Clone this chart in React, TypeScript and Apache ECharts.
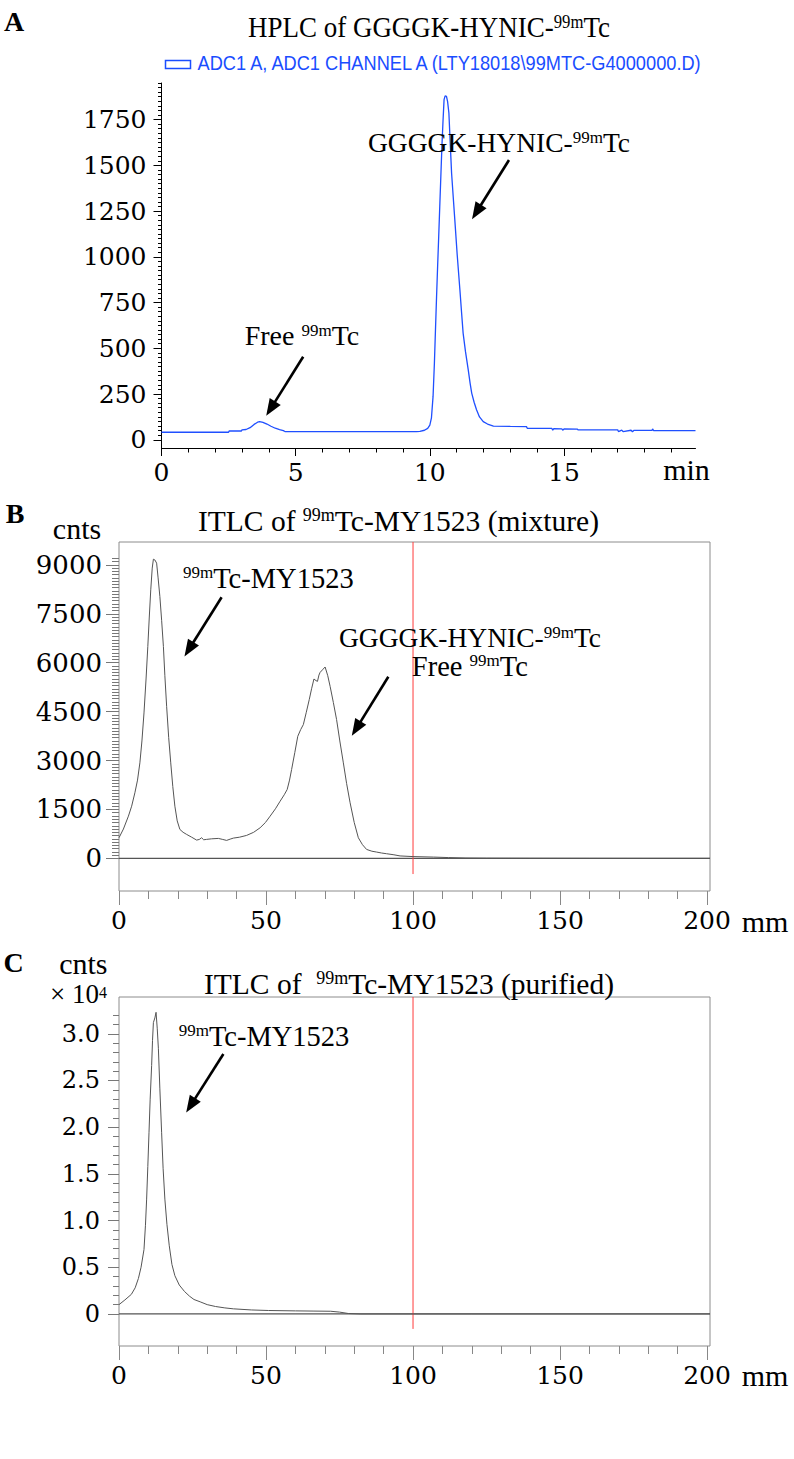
import React, { useEffect, useRef } from 'react';
import * as echarts from 'echarts';

// ---------- DATA ----------
// Panel A: HPLC trace [time (min), signal]
const hplcTrace: [number, number][] = [
  [0, 41], [2.5, 41], [2.52, 48], [2.98, 48], [3.0, 54], [3.15, 56], [3.3, 66], [3.45, 84], [3.58, 96], [3.66, 99],
  [3.78, 95], [3.93, 86], [4.08, 74], [4.24, 63], [4.4, 56], [4.54, 50], [4.6, 45], [6.0, 44], [8.0, 44], [9.5, 44],
  [9.63, 46], [9.8, 52], [9.92, 62], [10.0, 80], [10.06, 120], [10.12, 237], [10.17, 420], [10.21, 601], [10.25, 780],
  [10.29, 948], [10.33, 1110], [10.37, 1276], [10.41, 1440], [10.45, 1604], [10.49, 1740], [10.53, 1859], [10.57, 1880],
  [10.62, 1877], [10.66, 1850], [10.71, 1786], [10.76, 1620], [10.81, 1458], [10.87, 1330], [10.93, 1203], [11.02, 1010],
  [11.12, 820], [11.18, 700], [11.24, 583], [11.33, 480], [11.43, 383], [11.5, 310], [11.56, 255], [11.65, 205],
  [11.74, 164], [11.85, 125], [11.99, 99], [12.15, 86], [12.37, 75], [13.0, 73], [13.6, 72], [13.63, 63], [14.55, 62],
  [14.58, 52], [14.62, 61], [14.92, 60], [14.95, 52], [15.0, 59], [15.5, 58], [15.52, 54], [17.0, 54], [17.03, 45],
  [17.15, 53], [17.2, 45], [17.5, 52], [17.55, 44], [17.6, 51], [18.28, 51], [18.3, 59], [18.34, 50], [19.0, 50], [19.9, 50]
];

// Panel B: ITLC of the mixture [distance (mm), counts]
const itlcMixtureTrace: [number, number][] = [
  [0, 633], [1.5, 900], [3.2, 1295], [4.3, 1600], [5.4, 2011], [6.3, 2400], [7.1, 2929], [7.8, 3600], [8.5, 4459],
  [9.2, 5500], [9.8, 6499], [10.3, 7400], [10.8, 8234], [11.3, 8900], [11.7, 9173], [12.2, 9150], [12.8, 9051],
  [13.3, 8600], [13.9, 8029], [14.5, 7300], [15.1, 6499], [15.6, 5600], [16.2, 4662], [16.9, 3700], [17.6, 2929],
  [18.3, 2200], [19.0, 1601], [19.8, 1150], [20.7, 888], [21.8, 800], [23.0, 735], [24.7, 650], [26.4, 561],
  [27.3, 580], [28.1, 633], [28.8, 570], [29.8, 582], [31.5, 600], [33.8, 612], [35.3, 580], [36.6, 551], [37.8, 590],
  [38.9, 622], [41.0, 650], [43.4, 704], [45.8, 800], [48.0, 939], [49.8, 1100], [51.4, 1295], [53.2, 1520],
  [54.8, 1754], [56.2, 1950], [57.2, 2112], [58.0, 2400], [58.7, 2724], [59.8, 3250], [60.8, 3744], [61.8, 3950],
  [62.7, 4102], [63.7, 4480], [64.7, 4867], [65.5, 5200], [66.3, 5500], [67.0, 5450], [67.5, 5427], [68.0, 5620],
  [68.4, 5703], [69.2, 5780], [70.1, 5868], [71.0, 5600], [71.8, 5274], [72.9, 4780], [74.0, 4255], [75.1, 3600],
  [76.3, 2929], [77.4, 2300], [78.6, 1705], [80.0, 1100], [81.4, 633], [82.8, 420], [84.2, 275], [86.0, 220],
  [87.6, 194], [89.3, 165], [91.0, 143], [93.5, 110], [95.6, 75], [100, 55], [107, 40], [112, 25], [118, 12],
  [125, 8], [140, 5], [160, 3], [180, 2], [201, 2]
];

// Panel C: ITLC of the purified product [distance (mm), counts x 10^4]
const itlcPurifiedTrace: [number, number][] = [
  [0, 0.10], [2, 0.15], [4.2, 0.21], [5.5, 0.28], [6.6, 0.38], [7.5, 0.50], [8.5, 0.69], [9.0, 0.95], [9.4, 1.23],
  [9.8, 1.58], [10.2, 1.94], [10.6, 2.30], [11.1, 2.66], [11.4, 2.93], [11.7, 3.12], [12.2, 3.17], [12.6, 3.23],
  [13.0, 3.06], [13.4, 2.84], [13.9, 2.41], [14.5, 1.94], [15.0, 1.56], [15.6, 1.23], [16.3, 0.96], [17.1, 0.73],
  [18.0, 0.53], [19.0, 0.41], [20.5, 0.31], [22.3, 0.24], [24.0, 0.19], [25.5, 0.155], [27.6, 0.13], [30.0, 0.10],
  [32.8, 0.08], [36.0, 0.065], [38.9, 0.055], [45.0, 0.043], [50.9, 0.037], [60.0, 0.033], [66.0, 0.031],
  [72.0, 0.029], [75.0, 0.02], [78.0, 0.005], [82.0, 0], [120, 0], [201, 0]
];

// Tick label values
const hplcYLabels = [0, 250, 500, 750, 1000, 1250, 1500, 1750];
const hplcXLabels = [0, 5, 10, 15];
const mixYLabels = [0, 1500, 3000, 4500, 6000, 7500, 9000];
const purYLabels = [0, 0.5, 1.0, 1.5, 2.0, 2.5, 3.0];
const mmLabels = [0, 50, 100, 150, 200];

// Annotation arrows in data coordinates [from, to]
const hplcArrows: [number, number][][] = [
  [[12.95, 1529], [11.74, 1245]],
  [[5.28, 454], [4.07, 170]]
];
const mixArrows: [number, number][][] = [
  [[34.9, 8005], [23.8, 6410]],
  [[91.6, 5570], [80.7, 3979]]
];
const purArrows: [number, number][][] = [
  [[35.5, 2.784], [24.4, 2.234]]
];
// Origin (spotting) line at 100 mm, drawn from the top of the frame to just below zero
const originMm = 100;
const mixOriginLow = -480;
const purOriginLow = -0.16;

// ---------- LAYOUT ----------
type Panel = { L: number; T: number; W: number; H: number; xmin: number; xmax: number; ymin: number; ymax: number };
const PA: Panel = { L: 161.5, T: 83, W: 534, H: 365, xmin: 0, xmax: 19.9, ymin: -45, ymax: 1950 };
const PB: Panel = { L: 119, T: 542, W: 591, H: 349, xmin: 0, xmax: 201, ymin: -1000, ymax: 9700 };
const PC: Panel = { L: 119, T: 997, W: 591, H: 349, xmin: 0, xmax: 201, ymin: -0.343, ymax: 3.394 };

const pyOf = (p: Panel, v: number) => p.T + ((p.ymax - v) / (p.ymax - p.ymin)) * p.H;
const pxOf = (p: Panel, v: number) => p.L + ((v - p.xmin) / (p.xmax - p.xmin)) * p.W;

const SERIF = 'Liberation Serif';
const NUMF = 'DejaVu Serif';

function buildOption() {
  const grid: any[] = [];
  const xAxis: any[] = [];
  const yAxis: any[] = [];
  const series: any[] = [];
  const hidden = (min = 0, max = 1) => ({ type: 'value', show: false, min, max, splitLine: { show: false } });
  const add = (g: any, xa: any, ya: any) => {
    const gi = grid.length;
    grid.push({ containLabel: false, ...g });
    xAxis.push({ ...xa, gridIndex: gi });
    yAxis.push({ ...ya, gridIndex: gi });
    return gi;
  };
  const plain = (v: number) => String(v);
  const lab = (fontSize: number, margin: number, fmt: (v: number) => string = plain) => ({
    show: true, fontFamily: NUMF, fontSize, color: '#000', margin, formatter: fmt, hideOverlap: false
  });
  const yTicks = (p: Panel, vals: number[] | null, a: number, b: number, step: number, len: number, color: string, label?: any) => {
    const lo = vals ? vals[0] : a;
    const hi = vals ? vals[vals.length - 1] : b;
    const st = vals ? vals[1] - vals[0] : step;
    const top = pyOf(p, hi);
    const bottom = pyOf(p, lo);
    add({ left: p.L, top, width: 20, height: bottom - top }, hidden(), {
      type: 'value', min: lo, max: hi, interval: st, position: 'left',
      axisLine: { show: false, onZero: false }, splitLine: { show: false },
      axisTick: { show: true, length: len, inside: false, lineStyle: { color, width: 1 } },
      axisLabel: label || { show: false }
    });
  };
  const xTicks = (p: Panel, vals: number[] | null, a: number, b: number, step: number, len: number, color: string, label?: any) => {
    const lo = vals ? vals[0] : a;
    const hi = vals ? vals[vals.length - 1] : b;
    const st = vals ? vals[1] - vals[0] : step;
    const left = pxOf(p, lo);
    const right = pxOf(p, hi);
    add({ left, top: p.T, width: right - left, height: p.H }, {
      type: 'value', min: lo, max: hi, interval: st, position: 'bottom',
      axisLine: { show: false, onZero: false }, splitLine: { show: false },
      axisTick: { show: true, length: len, inside: false, lineStyle: { color, width: 1 } },
      axisLabel: label || { show: false }
    }, hidden());
  };
  const arrowSeries = (gi: number, arrows: [number, number][][]) => ({
    type: 'line', xAxisIndex: gi, yAxisIndex: gi, data: [], silent: true,
    markLine: {
      silent: true, animation: false, symbol: ['none', 'triangle'], symbolSize: [13, 17],
      label: { show: false }, emphasis: { disabled: true },
      itemStyle: { color: '#000' },
      lineStyle: { color: '#000', width: 2.6, type: 'solid', opacity: 1 },
      data: arrows.map((a) => [{ coord: a[0] }, { coord: a[1] }])
    }
  });
  const lineSeries = (gi: number, data: number[][], color: string, width: number, z = 2) => ({
    type: 'line', xAxisIndex: gi, yAxisIndex: gi, data, showSymbol: false, symbol: 'none', z,
    lineStyle: { color, width, type: 'solid' }, itemStyle: { color }, silent: true, clip: false,
    emphasis: { disabled: true }
  });

  // ----- Panel A -----
  const gA = add(
    { left: PA.L, top: PA.T, width: PA.W, height: PA.H },
    {
      type: 'value', min: PA.xmin, max: PA.xmax,
      axisLine: { show: true, onZero: false, lineStyle: { color: '#000', width: 1 } },
      axisTick: { show: false }, axisLabel: { show: false }, splitLine: { show: false }
    },
    {
      type: 'value', min: PA.ymin, max: PA.ymax,
      axisLine: { show: true, onZero: false, lineStyle: { color: '#000', width: 1 } },
      axisTick: { show: false }, axisLabel: { show: false }, splitLine: { show: false }
    }
  );
  series.push(lineSeries(gA, hplcTrace, '#1f4fff', 1.3));
  series.push(arrowSeries(gA, hplcArrows));
  yTicks(PA, null, 0, 1950, 25, 3.5, '#000');
  yTicks(PA, hplcYLabels, 0, 0, 0, 8, '#000', lab(25, 15));
  xTicks(PA, null, 0, 19, 1, 4.5, '#000');
  xTicks(PA, hplcXLabels, 0, 0, 0, 8, '#000', lab(25, 12));

  // ----- Panel B -----
  const gB = add(
    { left: PB.L, top: PB.T, width: PB.W, height: PB.H, show: true, borderColor: '#8c8c8c', borderWidth: 1, backgroundColor: 'rgba(0,0,0,0)' },
    hidden(PB.xmin, PB.xmax),
    hidden(PB.ymin, PB.ymax)
  );
  series.push(lineSeries(gB, [[PB.xmin, 0], [PB.xmax, 0]], '#555555', 1.2, 1));
  series.push(lineSeries(gB, [[originMm, PB.ymax], [originMm, mixOriginLow]], '#ff3b3b', 1, 1));
  series.push(lineSeries(gB, itlcMixtureTrace, '#555555', 1, 3));
  series.push(arrowSeries(gB, mixArrows));
  yTicks(PB, null, 0, 9200, 100, 7, '#777');
  yTicks(PB, mixYLabels, 0, 0, 0, 13, '#777', lab(26, 17));
  xTicks(PB, null, 0, 200, 10, 8, '#888');
  xTicks(PB, mmLabels, 0, 0, 0, 14, '#888', lab(25, 17));

  // ----- Panel C -----
  const gC = add(
    { left: PC.L, top: PC.T, width: PC.W, height: PC.H, show: true, borderColor: '#8c8c8c', borderWidth: 1, backgroundColor: 'rgba(0,0,0,0)' },
    hidden(PC.xmin, PC.xmax),
    hidden(PC.ymin, PC.ymax)
  );
  series.push(lineSeries(gC, [[PC.xmin, 0], [PC.xmax, 0]], '#555555', 1.2, 1));
  series.push(lineSeries(gC, [[originMm, PC.ymax], [originMm, purOriginLow]], '#ff3b3b', 1, 1));
  series.push(lineSeries(gC, itlcPurifiedTrace, '#555555', 1, 3));
  series.push(arrowSeries(gC, purArrows));
  yTicks(PC, null, 0, 3.2, 0.1, 6, '#777');
  yTicks(PC, purYLabels, 0, 0, 0, 11, '#777', lab(24, 19, (v: number) => (v === 0 ? '0' : v.toFixed(1))));
  xTicks(PC, null, 0, 200, 10, 8, '#888');
  xTicks(PC, mmLabels, 0, 0, 0, 14, '#888', lab(25, 17));

  // ----- Texts -----
  const txt = (x: number, y: number, text: string, size: number, sup: number, o: any = {}) => {
    const fam = o.family || SERIF;
    const align = o.align || 'center';
    const lh = o.lh || size;
    return {
      type: 'text', x, y, scaleX: o.scaleX || 1, silent: true, z: 100,
      style: {
        text, fill: o.fill || '#000', fontFamily: fam, fontSize: size, fontWeight: o.weight || 'normal',
        textAlign: align, align, textVerticalAlign: 'middle', verticalAlign: 'middle',
        rich: {
          n: { fontFamily: fam, fontSize: size, lineHeight: lh, fontWeight: o.weight || 'normal', fill: o.fill || '#000' },
          s: { fontFamily: fam, fontSize: sup, lineHeight: sup, verticalAlign: 'top', fill: o.fill || '#000' }
        }
      }
    };
  };
  const graphic: any[] = [
    txt(14, 21, '{n|A}', 28, 16, { weight: 'bold' }),
    txt(429, 27.5, '{n|HPLC of GGGGK-HYNIC-}{s|99m}{n|Tc}', 29, 18, { scaleX: 0.93 }),
    {
      type: 'rect', silent: true, z: 100,
      shape: { x: 165.5, y: 60.5, width: 25, height: 8 },
      style: { fill: 'none', stroke: '#1a4dff', lineWidth: 1.5 }
    },
    txt(197.5, 63, '{n|ADC1 A, ADC1 CHANNEL A (LTY18018\\99MTC-G4000000.D)}', 19.5, 12, { family: 'Liberation Sans', fill: '#1a4dff', align: 'left', scaleX: 0.935 }),
    txt(499, 142.5, '{n|GGGGK-HYNIC-}{s|99m}{n|Tc}', 27.5, 17),
    txt(302, 335.8, '{n|Free }{s|99m}{n|Tc}', 28, 17),
    txt(686.5, 469, '{n|min}', 30, 18),

    txt(15, 513, '{n|B}', 28, 16, { weight: 'bold' }),
    txt(77, 528.8, '{n|cnts}', 30, 18, { lh: 24 }),
    txt(398.5, 520.7, '{n|ITLC of }{s|99m}{n|Tc-MY1523 (mixture)}', 29.5, 18),
    txt(268.3, 578.7, '{s|99m}{n|Tc-MY1523}', 28.5, 17),
    txt(470, 637.5, '{n|GGGGK-HYNIC-}{s|99m}{n|Tc}', 27.5, 17),
    txt(469.8, 666, '{n|Free }{s|99m}{n|Tc}', 28.5, 17),
    txt(765, 921, '{n|mm}', 30, 18),

    txt(13.5, 962, '{n|C}', 28, 16, { weight: 'bold' }),
    txt(83.3, 963.5, '{n|cnts}', 30, 18, { lh: 22 }),
    txt(78.5, 994, '{n|× 10}{s|4}', 27, 16, { lh: 20 }),
    txt(409, 984, '{n|ITLC of  }{s|99m}{n|Tc-MY1523 (purified)}', 29.5, 18),
    txt(264, 1036.7, '{s|99m}{n|Tc-MY1523}', 28.5, 17),
    txt(765, 1375.5, '{n|mm}', 30, 18)
  ];

  return { animation: false, backgroundColor: '#fff', grid, xAxis, yAxis, series, graphic };
}

export default function App() {
  const ref = useRef<HTMLDivElement>(null);
  useEffect(() => {
    if (!ref.current) return;
    const chart = echarts.init(ref.current, null, { renderer: 'svg' });
    chart.setOption(buildOption() as any);
    return () => chart.dispose();
  }, []);
  return <div ref={ref} style={{ position: 'absolute', left: 0, top: 0, width: 794, height: 1459 }} />;
}
